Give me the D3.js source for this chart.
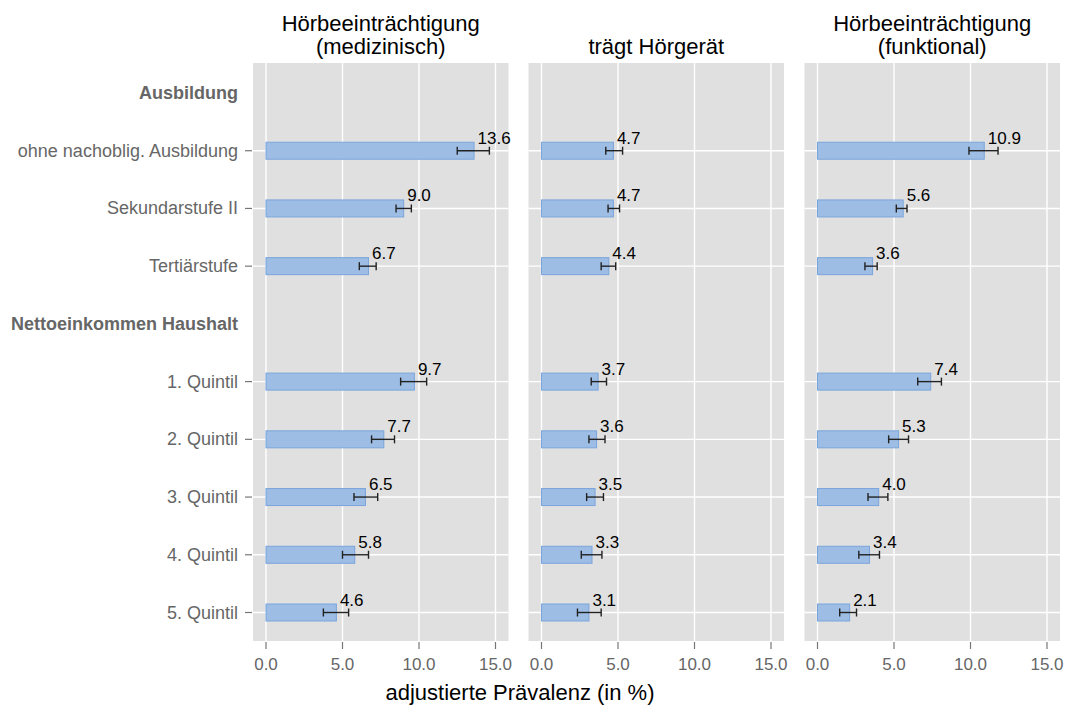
<!DOCTYPE html>
<html><head><meta charset="utf-8">
<script src="https://cdn.jsdelivr.net/npm/d3@7"></script>
<style>body{margin:0;background:#fff;} text{font-family:"Liberation Sans",Arial,sans-serif;}</style>
</head><body><svg id="c" width="1066" height="706"></svg>
<script>
const groupHeaders = ["Ausbildung", "Nettoeinkommen Haushalt"];
const categoriesEdu = ["ohne nachoblig. Ausbildung", "Sekundarstufe II", "Tertiärstufe"];
const categoriesInc = ["1. Quintil", "2. Quintil", "3. Quintil", "4. Quintil", "5. Quintil"];
const categories = categoriesEdu.concat(categoriesInc);
const rowOrder = [groupHeaders[0], ...categoriesEdu, groupHeaders[1], ...categoriesInc];
const panelTitles = [["Hörbeeinträchtigung", "(medizinisch)"], ["trägt Hörgerät"], ["Hörbeeinträchtigung", "(funktional)"]];
const valuesMed = [13.6, 9.0, 6.7, 9.7, 7.7, 6.5, 5.8, 4.6];
const lowerMed  = [12.5, 8.5, 6.1, 8.8, 6.9, 5.75, 5.0, 3.75];
const upperMed  = [14.6, 9.5, 7.2, 10.5, 8.4, 7.3, 6.7, 5.4];
const valuesAid = [4.7, 4.7, 4.4, 3.7, 3.6, 3.5, 3.3, 3.1];
const lowerAid  = [4.2, 4.35, 3.9, 3.25, 3.1, 2.95, 2.6, 2.35];
const upperAid  = [5.3, 5.1, 4.85, 4.25, 4.15, 4.05, 3.95, 3.9];
const valuesFun = [10.9, 5.6, 3.6, 7.4, 5.3, 4.0, 3.4, 2.1];
const lowerFun  = [9.9, 5.15, 3.1, 6.55, 4.65, 3.3, 2.7, 1.45];
const upperFun  = [11.8, 5.85, 3.9, 8.1, 5.95, 4.6, 4.05, 2.55];
const xTicks = [0, 5, 10, 15];
const xTitle = "adjustierte Prävalenz (in %)";

const panelsData = [
  {title: panelTitles[0], v: valuesMed, lo: lowerMed, hi: upperMed},
  {title: panelTitles[1], v: valuesAid, lo: lowerAid, hi: upperAid},
  {title: panelTitles[2], v: valuesFun, lo: lowerFun, hi: upperFun}
];

const svg = d3.select("#c");
const panelLeft = [253, 528.5, 804.5];
const panelW = 255.5, panelTop = 63, panelBottom = 641;
const y = d3.scalePoint().domain(rowOrder).range([93, 612.5]);
const barH = 17;
const textGray = "#666666";

panelsData.forEach((p, pi) => {
  const x0 = panelLeft[pi];
  const x = d3.scaleLinear().domain([-0.85, 15.85]).range([x0, x0 + panelW]);
  const g = svg.append("g");
  g.append("rect").attr("x", x0).attr("y", panelTop).attr("width", panelW)
    .attr("height", panelBottom - panelTop).attr("fill", "#e0e0e0");
  g.selectAll(".vg").data(xTicks).join("line")
    .attr("x1", d => x(d)).attr("x2", d => x(d))
    .attr("y1", panelTop).attr("y2", panelBottom)
    .attr("stroke", "#fff").attr("stroke-width", 1.4);
  g.selectAll(".hg").data(categories).join("line")
    .attr("x1", x0).attr("x2", x0 + panelW)
    .attr("y1", d => y(d)).attr("y2", d => y(d))
    .attr("stroke", "#fff").attr("stroke-width", 1.4);
  g.selectAll(".bar").data(categories).join("rect")
    .attr("x", x(0)).attr("y", d => y(d) - barH / 2)
    .attr("width", (d, i) => x(p.v[i]) - x(0)).attr("height", barH)
    .attr("fill", "#9dbde4").attr("stroke", "#7aa5dc").attr("stroke-width", 1);
  const eb = g.selectAll(".eb").data(categories).join("g");
  eb.append("line").attr("x1", (d, i) => x(p.lo[i])).attr("x2", (d, i) => x(p.hi[i]))
    .attr("y1", d => y(d)).attr("y2", d => y(d)).attr("stroke", "#222").attr("stroke-width", 1.4);
  eb.append("line").attr("x1", (d, i) => x(p.lo[i])).attr("x2", (d, i) => x(p.lo[i]))
    .attr("y1", d => y(d) - 4).attr("y2", d => y(d) + 4).attr("stroke", "#222").attr("stroke-width", 1.4);
  eb.append("line").attr("x1", (d, i) => x(p.hi[i])).attr("x2", (d, i) => x(p.hi[i]))
    .attr("y1", d => y(d) - 4).attr("y2", d => y(d) + 4).attr("stroke", "#222").attr("stroke-width", 1.4);
  g.selectAll(".vl").data(categories).join("text")
    .attr("x", (d, i) => x(p.v[i]) + 3.5).attr("y", d => y(d) - 7)
    .attr("font-size", 17).attr("fill", "#000")
    .text((d, i) => d3.format(".1f")(p.v[i]));
  g.selectAll(".xt").data(xTicks).join("line")
    .attr("x1", d => x(d)).attr("x2", d => x(d)).attr("y1", panelBottom + 1).attr("y2", panelBottom + 8)
    .attr("stroke", "#777").attr("stroke-width", 1.2);
  g.selectAll(".xl").data(xTicks).join("text")
    .attr("x", d => x(d)).attr("y", 670).attr("text-anchor", "middle")
    .attr("font-size", 17).attr("fill", textGray)
    .text(d => d3.format(".1f")(d));
  const cx = x0 + panelW / 2;
  const lines = p.title;
  lines.forEach((t, li) => {
    g.append("text").attr("x", cx).attr("y", 54 - (lines.length - 1 - li) * 23)
      .attr("text-anchor", "middle").attr("font-size", 22).attr("fill", "#000").text(t);
  });
});

const ya = svg.append("g");
ya.selectAll(".yt").data(categories).join("line")
  .attr("x1", 245).attr("x2", 252).attr("y1", d => y(d)).attr("y2", d => y(d))
  .attr("stroke", "#777").attr("stroke-width", 1.2);
ya.selectAll(".yl").data(categories).join("text")
  .attr("x", 238).attr("y", d => y(d) + 6).attr("text-anchor", "end")
  .attr("font-size", 18).attr("fill", textGray).text(d => d);
ya.selectAll(".yh").data(groupHeaders).join("text")
  .attr("x", 238).attr("y", d => y(d) + 6).attr("text-anchor", "end")
  .attr("font-size", 18).attr("font-weight", "bold").attr("fill", textGray).text(d => d);

svg.append("text").attr("x", 520).attr("y", 700).attr("text-anchor", "middle")
  .attr("font-size", 22).attr("fill", "#000").text(xTitle);
</script></body></html>
